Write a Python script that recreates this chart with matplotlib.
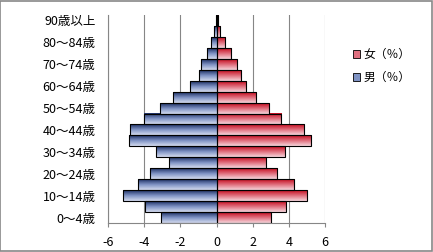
import numpy as np
import matplotlib
matplotlib.use("Agg")
import matplotlib.pyplot as plt
from matplotlib.colors import LinearSegmentedColormap
from matplotlib.patches import Patch, Rectangle

plt.rcParams["font.family"] = ["Noto Sans CJK JP", "DejaVu Sans"]

# Age groups, bottom to top
age_groups = ["0～4歳", "5～9歳", "10～14歳", "15～19歳", "20～24歳", "25～29歳",
              "30～34歳", "35～39歳", "40～44歳", "45～49歳", "50～54歳", "55～59歳",
              "60～64歳", "65～69歳", "70～74歳", "75～79歳", "80～84歳", "85～89歳",
              "90歳以上"]
male = [-3.09, -3.98, -5.19, -4.36, -3.65, -2.60, -3.37, -4.86, -4.80, -4.03,
        -3.15, -2.38, -1.49, -0.99, -0.83, -0.55, -0.28, -0.13, -0.04]
female = [3.00, 3.83, 4.99, 4.27, 3.33, 2.73, 3.79, 5.21, 4.82, 3.57,
          2.91, 2.19, 1.62, 1.36, 1.12, 0.81, 0.48, 0.20, 0.06]
x_ticks = [-6, -4, -2, 0, 2, 4, 6]

blue_cmap = LinearSegmentedColormap.from_list("b", ["#d4dbef", "#7f93c4", "#1b2d62"])
red_cmap = LinearSegmentedColormap.from_list("r", ["#f6d6dc", "#e0707e", "#c40a1e"])

fig = plt.figure(figsize=(4.33, 2.52), dpi=100)
ax = fig.add_axes([108 / 433, 1 - 223 / 252, 217 / 433, 208 / 252])

y = np.arange(len(age_groups))
grad = np.linspace(0, 1, 64).reshape(-1, 1)


def gradient_bars(values, cmap):
    bars = ax.barh(y, values, height=1.0, facecolor="none", edgecolor="black",
                   linewidth=0.8, zorder=3)
    for p in bars:
        x0, y0 = p.get_x(), p.get_y()
        w, h = p.get_width(), p.get_height()
        ax.imshow(grad, cmap=cmap, aspect="auto", origin="lower",
                  extent=[x0, x0 + w, y0, y0 + h], zorder=2, interpolation="bilinear")
    return bars


ax.axvline(0, color="#868686", linewidth=0.8, zorder=1)
gradient_bars(male, blue_cmap)
gradient_bars(female, red_cmap)

ax.set_xlim(-6, 6)
ax.set_ylim(-0.5, len(age_groups) - 0.5)
ax.set_xticks(x_ticks)
ax.set_xticklabels([str(t) for t in x_ticks])
ax.set_yticks(y[::2])
ax.set_yticklabels(age_groups[::2])
ax.tick_params(axis="y", length=0, pad=9, labelsize=9)
ax.tick_params(axis="x", length=3, width=0.8, color="#868686", pad=6, labelsize=9)

ax.grid(axis="x", color="#868686", linewidth=0.8, zorder=0)
ax.set_axisbelow(True)
for s in ["top", "right"]:
    ax.spines[s].set_visible(False)
ax.spines["left"].set_color("#868686")
ax.spines["left"].set_linewidth(0.8)
ax.spines["bottom"].set_color("#868686")
ax.spines["bottom"].set_linewidth(0.8)

handles = [Patch(facecolor="#e07080", edgecolor="black", linewidth=0.6, label="女（％）"),
           Patch(facecolor="#7f93c4", edgecolor="black", linewidth=0.6, label="男（％）")]
fig.legend(handles=handles, loc="center left", bbox_to_anchor=(342 / 433, 1 - 66 / 252),
           frameon=False, fontsize=8.5, handlelength=0.65, handleheight=0.65,
           handletextpad=0.3, labelspacing=0.85)

fig.add_artist(Rectangle((0.001, 0.002), 0.997, 0.995, transform=fig.transFigure,
                         fill=False, edgecolor="#888888", linewidth=1.2))

fig.savefig("out.png", dpi=100)
